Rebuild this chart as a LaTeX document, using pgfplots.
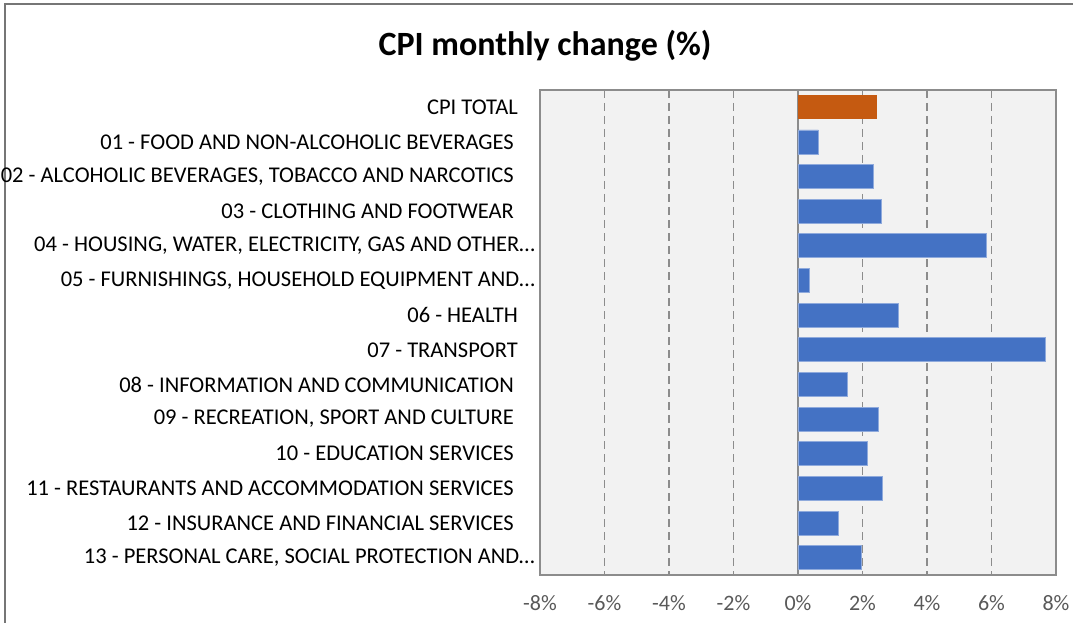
\documentclass[border=0pt]{standalone}
\usepackage{pgfplots}
\pgfplotsset{compat=1.18}
\usepackage{fontspec}
\setmainfont{Carlito}
\definecolor{barblue}{HTML}{4472C4}
\definecolor{baredge}{HTML}{8FAADC}
\definecolor{barorange}{HTML}{C55A11}
\definecolor{plotbg}{HTML}{F2F2F2}
\definecolor{framegray}{HTML}{767676}
\definecolor{gridgray}{HTML}{8C8C8C}
\definecolor{ticktext}{HTML}{595959}
\newcommand{\gapA}{\rule{17pt}{0pt}}
\newcommand{\gapB}{\rule{21pt}{0pt}}
\begin{document}
\begin{tikzpicture}[x=1pt,y=1pt]
\useasboundingbox (0,0) rectangle (1073,623);
\draw[framegray, line width=2pt] (5,-5) -- (5,619) -- (1080,619);
\node[font=\fontsize{34}{40}\selectfont\bfseries] at (545,577) {CPI monthly change (\%)};
\begin{axis}[at={(540pt,48pt)}, anchor=south west, scale only axis,
  width=516pt, height=485pt,
  xmin=-8, xmax=8, ymin=-0.5, ymax=13.5, y dir=reverse,
  xbar, bar width=24pt, bar shift=0pt,
  axis background/.style={fill=plotbg},
  axis line style={gridgray, line width=1.8pt},
  xtick={-8,-6,...,8},
  xticklabels={-8\%,-6\%,-4\%,-2\%,0\%,2\%,4\%,6\%,8\%},
  major tick length=0pt,
  xmajorgrids,
  grid style={gridgray, line width=1.3pt, dash pattern=on 8pt off 5pt},
  ytick={0,...,13},
  yticklabels={
    CPI TOTAL\gapA,
    01 - FOOD AND NON-ALCOHOLIC BEVERAGES\gapB,
    02 - ALCOHOLIC BEVERAGES{,} TOBACCO AND NARCOTICS\gapB,
    03 - CLOTHING AND FOOTWEAR\gapB,
    04 - HOUSING{,} WATER{,} ELECTRICITY{,} GAS AND OTHER…,
    05 - FURNISHINGS{,} HOUSEHOLD EQUIPMENT AND…,
    06 - HEALTH\gapA,
    07 - TRANSPORT\gapA,
    08 - INFORMATION AND COMMUNICATION\gapB,
    09 - RECREATION{,} SPORT AND CULTURE\gapB,
    10 - EDUCATION SERVICES\gapB,
    11 - RESTAURANTS AND ACCOMMODATION SERVICES\gapB,
    12 - INSURANCE AND FINANCIAL SERVICES\gapB,
    13 - PERSONAL CARE{,} SOCIAL PROTECTION AND…},
  yticklabel style={anchor=east, inner sep=0pt, xshift=-5pt, text=black,
    font=\fontsize{22.5}{26}\selectfont},
  xticklabel style={text=ticktext, font=\fontsize{22}{26}\selectfont, yshift=-17pt},
  clip=false,
]
\draw[gridgray, line width=1.8pt] (axis cs:0,-0.5) -- (axis cs:0,13.5);
\addplot[fill=barorange, draw=none] coordinates {(2.45,0)};
\addplot[fill=barblue, draw=baredge, line width=0.8pt] coordinates {
 (0.63,1) (2.33,2) (2.59,3) (5.85,4) (0.36,5) (3.12,6) (7.66,7)
 (1.53,8) (2.49,9) (2.14,10) (2.62,11) (1.25,12) (1.98,13)};
\end{axis}
\end{tikzpicture}
\end{document}
